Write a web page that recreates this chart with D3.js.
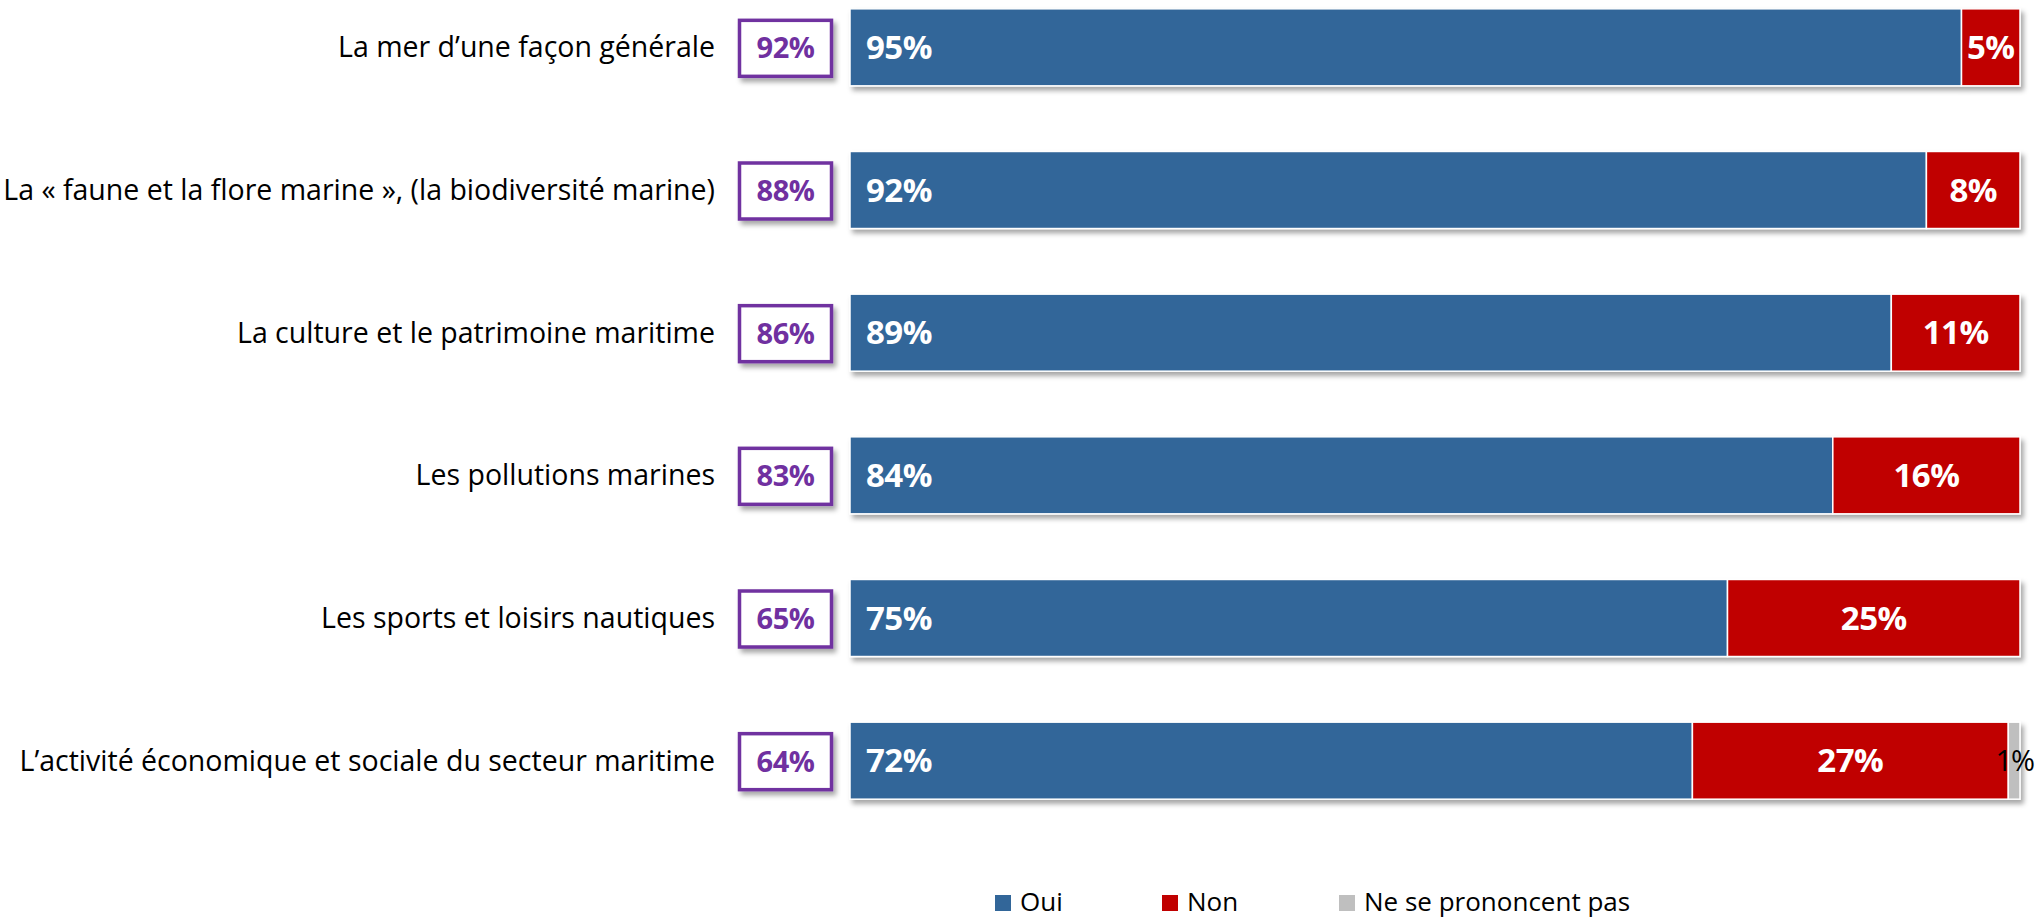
<!DOCTYPE html>
<html>
<head>
<meta charset="utf-8">
<script src="https://cdn.jsdelivr.net/npm/d3@7"></script>
<style>
  html, body { margin: 0; padding: 0; background: #ffffff; }
  svg { display: block; }
  text { font-family: "Open Sans", "Noto Sans", sans-serif; }
</style>
</head>
<body>
<svg id="chart" width="2036" height="918"></svg>
<script>
const categories = [
  "La mer d\u2019une fa\u00e7on g\u00e9n\u00e9rale",
  "La \u00ab faune et la flore marine \u00bb, (la biodiversit\u00e9 marine)",
  "La culture et le patrimoine maritime",
  "Les pollutions marines",
  "Les sports et loisirs nautiques",
  "L\u2019activit\u00e9 \u00e9conomique et sociale du secteur maritime"
];
const oui = [95, 92, 89, 84, 75, 72];
const non = [5, 8, 11, 16, 25, 27];
const nsp = [0, 0, 0, 0, 0, 1];
const boxValues = [92, 88, 86, 83, 65, 64];
const seriesNames = ["Oui", "Non", "Ne se prononcent pas"];
const seriesColors = ["#326699", "#C00000", "#BFBFBF"];

const svg = d3.select("#chart");

// defs: shadow
const defs = svg.append("defs");
const f = defs.append("filter").attr("id", "shadow")
  .attr("x", "-5%").attr("y", "-20%").attr("width", "115%").attr("height", "160%");
f.append("feDropShadow").attr("dx", 3).attr("dy", 4).attr("stdDeviation", 2.5)
  .attr("flood-color", "#000").attr("flood-opacity", 0.35);

const x = d3.scaleLinear().domain([0, 100]).range([850, 2020]);
const y = d3.scaleBand().domain(categories).range([-24, 832])
  .paddingInner(0.46).paddingOuter(0.23);

const rows = categories.map((c, i) => ({ cat: c, box: boxValues[i] }));
const stackData = categories.map((c, i) => ({ cat: c, Oui: oui[i], Non: non[i], "Ne se prononcent pas": nsp[i] }));
const stack = d3.stack().keys(seriesNames)(stackData);

// bars
const barG = svg.append("g").attr("filter", "url(#shadow)");
stack.forEach((layer, li) => {
  barG.selectAll(null).data(layer.filter(d => d[1] - d[0] > 0)).enter()
    .append("rect")
    .attr("x", d => x(d[0]))
    .attr("y", d => y(d.data.cat))
    .attr("width", d => x(d[1]) - x(d[0]))
    .attr("height", y.bandwidth())
    .attr("fill", seriesColors[li])
    .attr("stroke", "#ffffff")
    .attr("stroke-width", 1.5);
});

// bar labels
stack.forEach((layer, li) => {
  svg.append("g").selectAll("text").data(layer.filter(d => d[1] - d[0] > 0)).enter()
    .append("text")
    .attr("x", d => li === 0 ? x(d[0]) + 16 : li === 2 ? x(d[1]) + 14 : (x(d[0]) + x(d[1])) / 2)
    .attr("y", d => y(d.data.cat) + y.bandwidth() / 2)
    .attr("dy", "0.35em")
    .attr("text-anchor", li === 0 ? "start" : li === 2 ? "end" : "middle")
    .attr("font-size", li === 2 ? 29 : 33)
    .attr("font-weight", li === 2 ? "normal" : "bold")
    .attr("fill", li === 2 ? "#000000" : "#ffffff")
    .attr("letter-spacing", li === 2 ? "-1" : "-0.5")
    .text(d => (d[1] - d[0]) + "%");
});

// category labels
const catText = svg.append("g").selectAll("text").data(rows).enter().append("text")
  .attr("x", 715)
  .attr("y", d => y(d.cat) + y.bandwidth() / 2)
  .attr("dy", "0.35em")
  .attr("text-anchor", "end")
  .attr("font-size", 28)
  .attr("fill", "#000000")
  .text(d => d.cat);
let maxW = 0;
catText.each(function () { maxW = Math.max(maxW, this.getComputedTextLength()); });
catText.attr("font-size", 28 * 712 / maxW);

// purple boxes
const boxG = svg.append("g");
boxG.selectAll("rect").data(rows).enter().append("rect")
  .attr("x", 739.5)
  .attr("y", d => y(d.cat) + y.bandwidth() / 2 - 27)
  .attr("width", 92)
  .attr("height", 56)
  .attr("fill", "#ffffff")
  .attr("stroke", "#7030A0")
  .attr("stroke-width", 3.5)
  .attr("filter", "url(#shadow)");
boxG.selectAll("text").data(rows).enter().append("text")
  .attr("x", 785.5)
  .attr("y", d => y(d.cat) + y.bandwidth() / 2 + 1)
  .attr("dy", "0.35em")
  .attr("text-anchor", "middle")
  .attr("font-size", 29)
  .attr("font-weight", "bold")
  .attr("letter-spacing", "-0.5")
  .attr("fill", "#7030A0")
  .text(d => d.box + "%");

// legend
const legendX = [995, 1162, 1339];
const lg = svg.append("g");
seriesNames.forEach((n, i) => {
  lg.append("rect").attr("x", legendX[i]).attr("y", 895).attr("width", 16).attr("height", 16)
    .attr("fill", seriesColors[i]);
  lg.append("text").attr("x", legendX[i] + 25).attr("y", 911)
    .attr("font-size", 26).attr("fill", "#000").text(n);
});
</script>
</body>
</html>
